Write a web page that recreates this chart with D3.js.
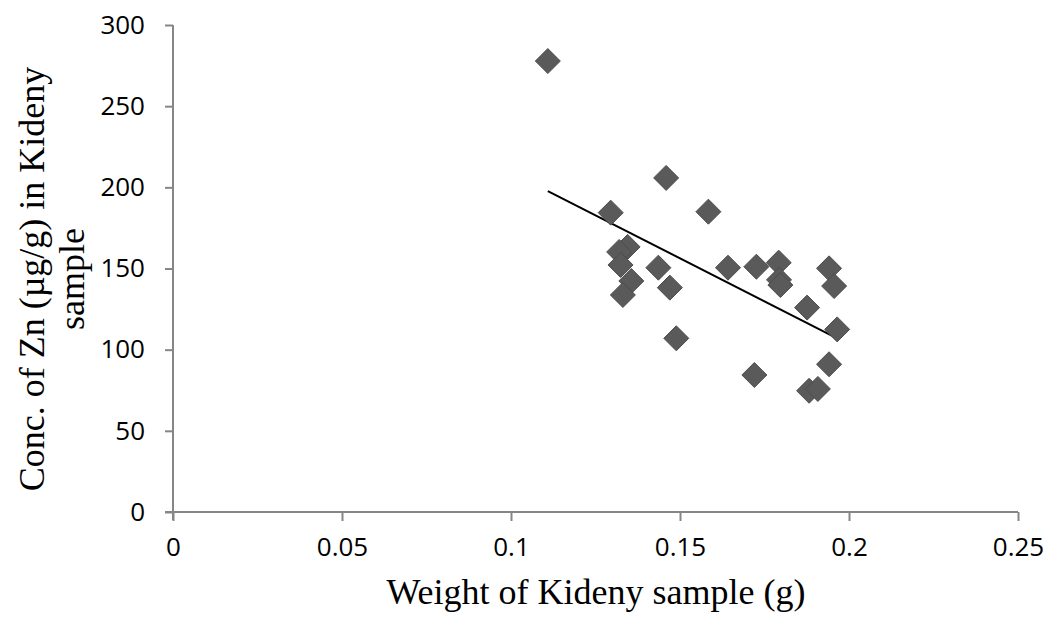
<!DOCTYPE html>
<html>
<head>
<meta charset="utf-8">
<script src="https://cdn.jsdelivr.net/npm/d3@7"></script>
<style>
  body { margin: 0; background: #fff; }
  .title { font-family: "Liberation Serif", "Times New Roman", serif; font-size: 36px; fill: #000; }
</style>
</head>
<body>
<svg id="chart" width="1047" height="621"></svg>
<script>
// kidney weight (g) vs Zn concentration (ug/g)
var weights = [0.1109, 0.1459, 0.1295, 0.1584, 0.1345, 0.1320, 0.1324, 0.1436, 0.1356,
               0.1470, 0.1331, 0.1489, 0.1642, 0.1726, 0.1792, 0.1793, 0.1797, 0.1941,
               0.1956, 0.1876, 0.1965, 0.1941, 0.1720, 0.1882, 0.1908];
var zinc = [277.8, 205.8, 184.4, 185.0, 163.3, 160.2, 152.2, 150.5, 142.3,
            138.2, 133.7, 107.0, 150.5, 151.1, 153.6, 143.0, 139.8, 150.1,
            139.2, 125.9, 112.5, 91.0, 84.4, 74.7, 75.8];
// trend line ends as drawn in the picture
var trendX = [0.1109, 0.1965];
var trendY = [197.7, 107.0];
var xTicks = [0, 0.05, 0.1, 0.15, 0.2, 0.25];
var yTicks = [0, 50, 100, 150, 200, 250, 300];

var svg = d3.select("#chart");

var x = d3.scaleLinear().domain([0, 0.25]).range([173, 1018]);
var y = d3.scaleLinear().domain([0, 300]).range([512, 25]);

var axisColor = "#868686";

function styleTicks(g) {
    g.attr("font-size", 26).attr("font-family", "'Open Sans', sans-serif");
    g.selectAll(".tick text")
        .style("font-family", "'Open Sans', sans-serif")
        .style("font-size", "26px")
        .attr("fill", "#000");
    g.selectAll(".tick line").attr("stroke", axisColor).attr("stroke-width", 2);
}

// x axis
var gx = svg.append("g")
    .attr("transform", "translate(0," + y(0) + ")")
    .call(d3.axisBottom(x).tickValues(xTicks).tickSize(9).tickPadding(13)
        .tickFormat(function (d) { return String(d); }));
gx.select(".domain").attr("stroke", axisColor).attr("stroke-width", 2)
    .attr("d", "M" + (x(0) - 8) + ",0H" + x(0.25));
styleTicks(gx);
gx.selectAll(".tick text").attr("dy", "0.85em");

// y axis
var gy = svg.append("g")
    .attr("transform", "translate(" + x(0) + ",0)")
    .call(d3.axisLeft(y).tickValues(yTicks).tickSize(8).tickPadding(20));
gy.select(".domain").attr("stroke", axisColor).attr("stroke-width", 2)
    .attr("d", "M0," + y(300) + "V" + (y(0) + 8));
styleTicks(gy);

// linear trend line
svg.append("line")
    .attr("x1", x(trendX[0])).attr("y1", y(trendY[0]))
    .attr("x2", x(trendX[1])).attr("y2", y(trendY[1]))
    .attr("stroke", "#000").attr("stroke-width", 2);

// diamond markers
svg.append("g").selectAll("path")
    .data(d3.range(weights.length))
    .enter().append("path")
    .attr("d", "M0,-12.5L12.5,0L0,12.5L-12.5,0Z")
    .attr("transform", function (i) { return "translate(" + x(weights[i]) + "," + y(zinc[i]) + ")"; })
    .attr("fill", "#5a5a5a")
    .attr("stroke", "#4d4d4d")
    .attr("stroke-width", 1);

// titles
svg.append("text").attr("class", "title")
    .attr("x", 596).attr("y", 604)
    .attr("text-anchor", "middle")
    .text("Weight of Kideny sample (g)");

var yt = svg.append("text").attr("class", "title")
    .attr("transform", "translate(44,279) rotate(-90)")
    .attr("text-anchor", "middle");
yt.append("tspan").attr("x", 0).attr("y", 0).text("Conc. of Zn (µg/g) in Kideny");
yt.append("tspan").attr("x", 0).attr("y", 40).text("sample");
</script>
</body>
</html>
